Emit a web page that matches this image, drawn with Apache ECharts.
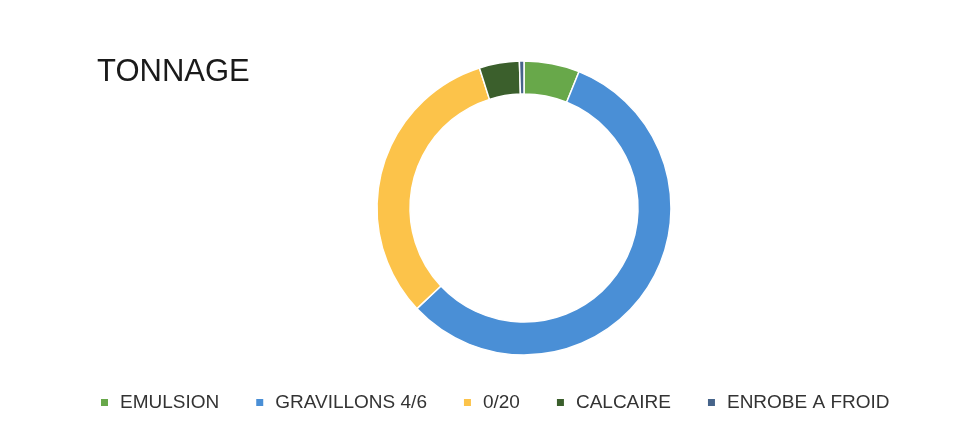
<!DOCTYPE html>
<html>
<head>
<meta charset="utf-8">
<script src="https://cdn.jsdelivr.net/npm/echarts@6/dist/echarts.min.js"></script>
<style>html,body{margin:0;padding:0;background:#fff;}#c{width:966px;height:426px;}</style>
</head>
<body>
<div id="c"></div>
<script>
const categories = ['EMULSION', 'GRAVILLONS 4/6', '0/20', 'CALCAIRE', 'ENROBE A FROID'];
const values = [6.1, 56.9, 32.1, 4.4, 0.5];
const colors = ['#68A84A', '#4A8FD6', '#FCC34A', '#3B5F2C', '#46648A'];

const chart = echarts.init(document.getElementById('c'));
chart.setOption({
  backgroundColor: '#ffffff',
  animation: false,
  title: {
    text: 'TONNAGE',
    left: 92, top: 52,
    textStyle: { fontFamily: 'Liberation Sans', fontSize: 31, fontWeight: 'normal', color: '#1a1a1a' }
  },
  legend: {
    left: 94, top: 388, width: 880,
    itemWidth: 9, itemHeight: 9, itemGap: 35,
    icon: 'rect',
    data: categories,
    textStyle: { fontFamily: 'Liberation Sans', fontSize: 19, color: '#333333', padding: [0, 0, 0, 6] }
  },
  series: [{
    type: 'pie',
    center: [524, 208],
    radius: [114, 147],
    startAngle: 90,
    clockwise: true,
    label: { show: false },
    labelLine: { show: false },
    itemStyle: { borderColor: '#ffffff', borderWidth: 1.5 },
    data: categories.map((n, i) => ({ name: n, value: values[i], itemStyle: { color: colors[i] } }))
  }]
});
</script>
</body>
</html>
